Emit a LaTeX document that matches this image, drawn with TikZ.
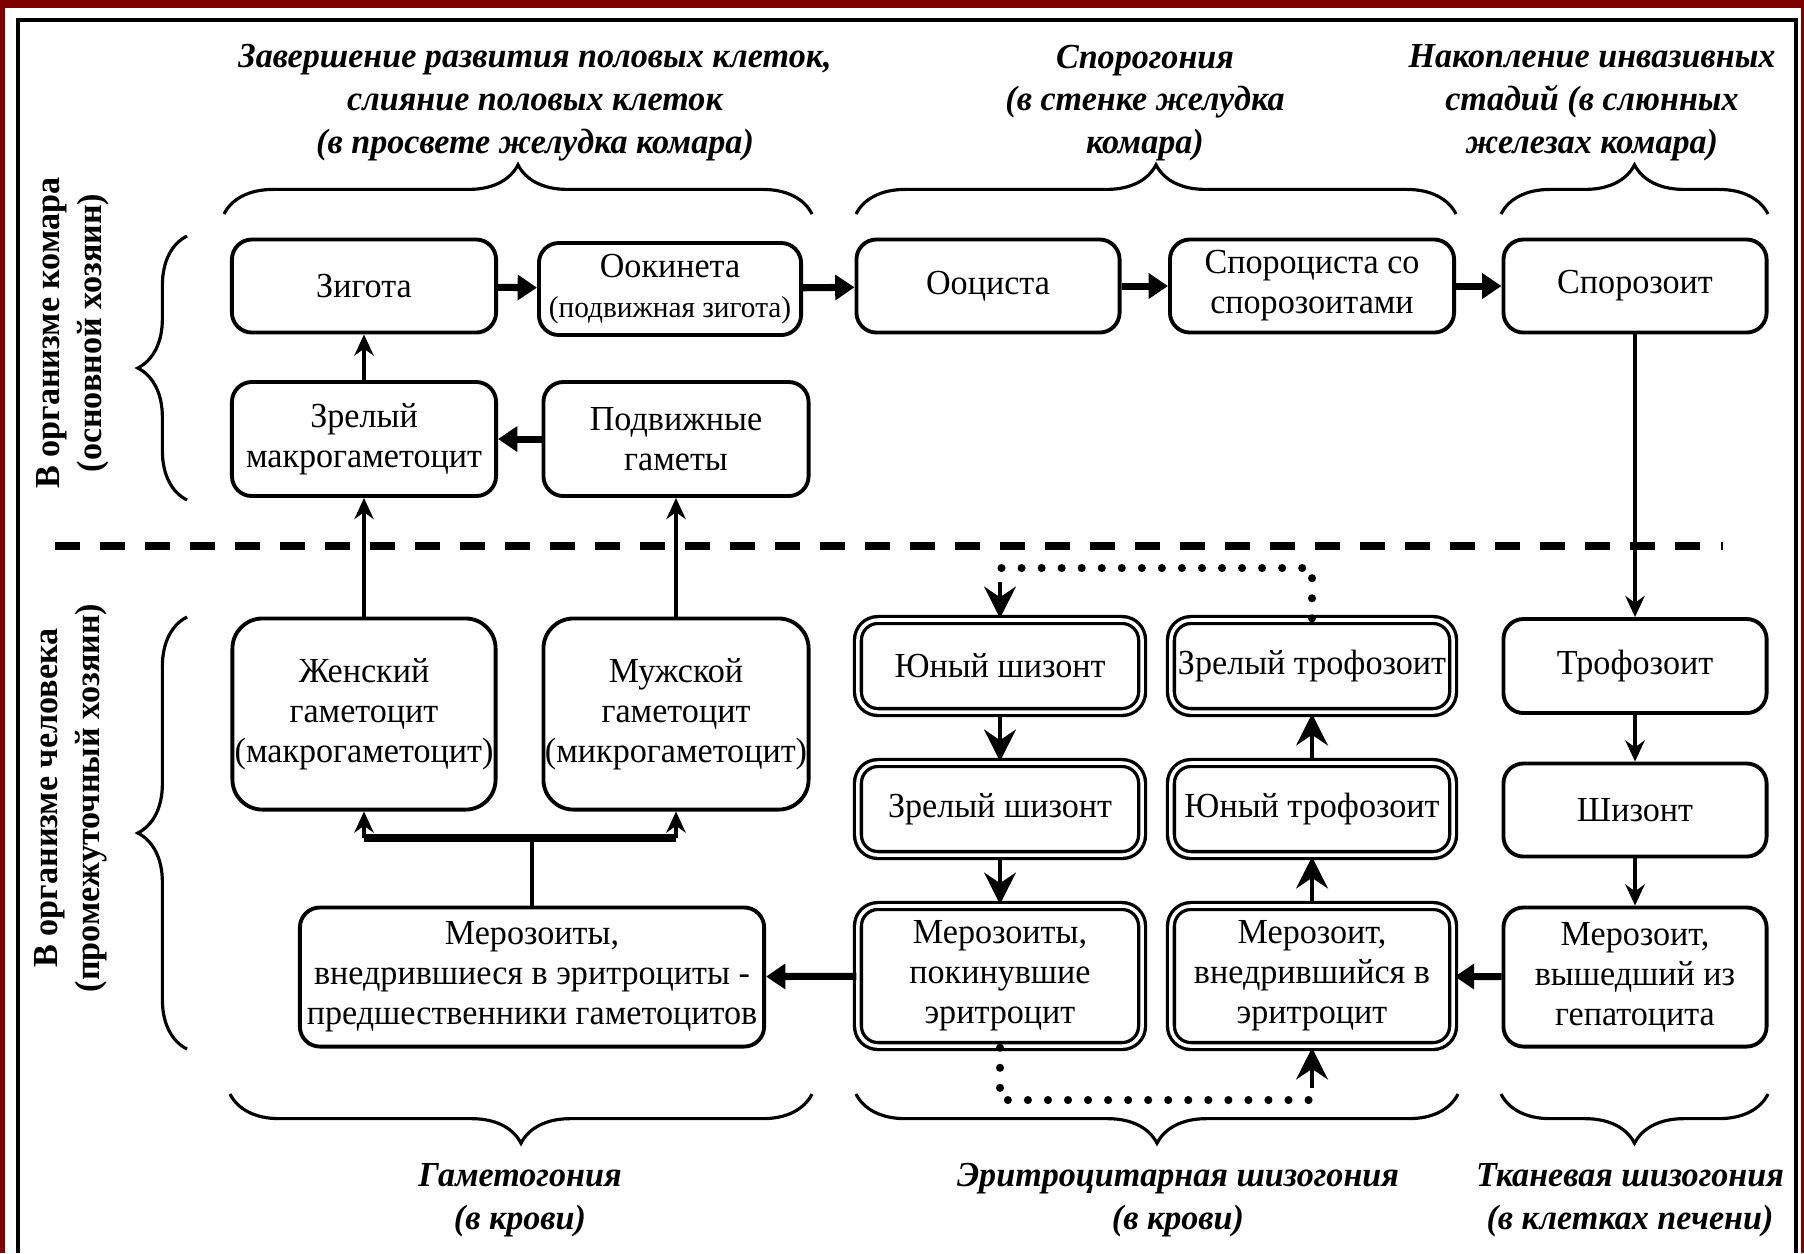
\documentclass[tikz,border=0pt]{standalone}
\usepackage{fontspec}
\setmainfont[FakeStretch=0.97]{Liberation Serif}
\usetikzlibrary{arrows.meta,decorations.pathreplacing}
\definecolor{frameRed}{HTML}{800000}

\tikzset{
  stage/.style={draw,line width=1.1pt,rounded corners=0.2cm,align=center,
                inner sep=0pt,font=\fontsize{10}{11.4}\selectfont},
  redCell/.style={stage,line width=0.95pt,double,double distance=1pt},
  thickArrow/.style={line width=2pt,-{Triangle[length=5.5pt,width=7pt]}},
  linkLine/.style={line width=1.4pt},
  linkArrow/.style={linkLine,-{Stealth[length=6pt,width=5.5pt]}},
  cellArrow/.style={linkLine,-{Stealth[length=9pt,width=9pt,inset=3pt]}},
  dotLine/.style={line width=2.3pt,line cap=round,dash pattern=on 0pt off 5.7pt},
  groupBrace/.style={decorate,decoration={brace,amplitude=14pt},line width=0.9pt},
  titleText/.style={align=center,font=\fontsize{10}{12.2}\selectfont\bfseries\itshape},
  hostText/.style={align=center,rotate=90,font=\fontsize{10}{11.9}\selectfont\bfseries}
}

\begin{document}
\begin{tikzpicture}[x=0.01cm,y=-0.01cm]
\useasboundingbox (0,0) rectangle (1804,1253);
\fill[frameRed] (0,0) rectangle (1804,1253);
\fill[white] (5,8) rectangle (1801,1253);
\draw[line width=1.1pt] (18,1253) -- (18,20) -- (1796,20) -- (1796,1253);

% In the mosquito
\node[stage,minimum width=2.64cm,minimum height=0.93cm] (zygote) at (364,286) {Зигота};
\node[stage,minimum width=2.62cm,minimum height=0.92cm] (ookinete) at (670,289)
  {Оокинета\\{\fontsize{8.6}{10}\selectfont(подвижная зигота)}};
\node[stage,minimum width=2.63cm,minimum height=0.93cm] (oocyst) at (988,286) {Ооциста};
\node[stage,minimum width=2.84cm,minimum height=0.93cm] (sporocyst) at (1312,286)
  {Спороциста со\\спорозоитами};
\node[stage,minimum width=2.63cm,minimum height=0.93cm] (sporozoite) at (1635,286) {Спорозоит};
\node[stage,minimum width=2.64cm,minimum height=1.14cm] (macro) at (364,439)
  {Зрелый\\макрогаметоцит};
\node[stage,minimum width=2.65cm,minimum height=1.14cm] (gametes) at (676,439)
  {Подвижные\\гаметы};

% In the human
\node[stage,rounded corners=0.3cm,minimum width=2.63cm,minimum height=1.91cm] (female)
  at (364,714) {Женский\\гаметоцит\\(макрогаметоцит)};
\node[stage,rounded corners=0.3cm,minimum width=2.65cm,minimum height=1.91cm] (male)
  at (676,714) {Мужской\\гаметоцит\\(микрогаметоцит)};
\node[stage,minimum width=4.64cm,minimum height=1.39cm] (merozG) at (532,977)
  {Мерозоиты,\\внедрившиеся в эритроциты -\\предшественники гаметоцитов};

% Erythrocytic schizogony
\node[redCell,minimum width=2.84cm,minimum height=0.92cm] (youngSchiz) at (1000,666) {Юный шизонт};
\node[redCell,minimum width=2.82cm,minimum height=0.92cm] (matureTroph) at (1312,666) {Зрелый трофозоит};
\node[redCell,minimum width=2.84cm,minimum height=0.92cm] (matureSchiz) at (1000,809) {Зрелый шизонт};
\node[redCell,minimum width=2.82cm,minimum height=0.92cm] (youngTroph) at (1312,809) {Юный трофозоит};
\node[redCell,minimum width=2.84cm,minimum height=1.40cm] (merozOut) at (1000,976)
  {Мерозоиты,\\покинувшие\\эритроцит};
\node[redCell,minimum width=2.82cm,minimum height=1.40cm] (merozIn) at (1312,976)
  {Мерозоит,\\внедрившийся в\\эритроцит};

% Tissue schizogony
\node[stage,minimum width=2.63cm,minimum height=0.94cm] (troph) at (1635,666) {Трофозоит};
\node[stage,minimum width=2.63cm,minimum height=0.93cm] (schiz) at (1635,810) {Шизонт};
\node[stage,minimum width=2.63cm,minimum height=1.39cm] (merozLiver) at (1635,977)
  {Мерозоит,\\вышедший из\\гепатоцита};

% Hosts
\draw[line width=2.3pt,dash pattern=on 7.1pt off 5.7pt] (55,546) -- (1723,546);
\node[hostText] (mosquito) at (73,333) {В организме комара\\(основной хозяин)};
\node[hostText] (human) at (71,798) {В организме человека\\(промежуточный хозяин)};
\draw[groupBrace] (187,500) -- (187,236);
\draw[groupBrace] (187,1049) -- (187,617);

% Stages above
\foreach \a/\b in {224/812,856/1456,1501/1768} {
  \draw[groupBrace] (\a,214) -- (\b,214);
}
\node[titleText] (fusion) at (535,103)
  {Завершение развития половых клеток,\\слияние половых клеток\\(в просвете желудка комара)};
\node[titleText] (sporogony) at (1145,103) {Спорогония\\(в стенке желудка\\комара)};
\node[titleText] (storage) at (1592,103) {Накопление инвазивных\\стадий (в слюнных\\железах комара)};

% Stages below
\foreach \a/\b in {812/230,1458/856,1768/1501} {
  \draw[groupBrace] (\a,1094) -- (\b,1094);
}
\node[titleText] (gametogony) at (520,1200) {Гаметогония\\(в крови)};
\node[titleText] (eryth) at (1178,1200) {Эритроцитарная шизогония\\(в крови)};
\node[titleText] (tissue) at (1630,1200) {Тканевая шизогония\\(в клетках печени)};

% Arrows
\draw[thickArrow] (zygote) -- (ookinete);
\draw[thickArrow] (ookinete) -- (oocyst);
\draw[thickArrow] (oocyst) -- (sporocyst);
\draw[thickArrow] (sporocyst) -- (sporozoite);
\draw[thickArrow] (gametes) -- (macro);
\draw[linkArrow] (macro) -- (zygote);
\draw[linkArrow] (female) -- (macro);
\draw[linkArrow] (male) -- (gametes);
\coordinate (split) at (532,838);
\draw[linkLine] (merozG) -- (split);
\draw[line width=2.2pt] (female |- split) -- (male |- split);
\draw[linkArrow] (female |- split) -- (female);
\draw[linkArrow] (male |- split) -- (male);
\draw[thickArrow] (merozOut) -- (merozG);
\draw[thickArrow] (merozLiver) -- (merozIn);
\draw[linkArrow] (sporozoite) -- (troph);
\draw[linkArrow] (troph) -- (schiz);
\draw[linkArrow] (schiz) -- (merozLiver);
\draw[cellArrow] (merozIn) -- (youngTroph);
\draw[cellArrow] (youngTroph) -- (matureTroph);
\draw[cellArrow] (youngSchiz) -- (matureSchiz);
\draw[cellArrow] (matureSchiz) -- (merozOut);
% dotted loops
\coordinate (topDots) at (1312,568);
\coordinate (topDrop) at (1000,582);
\coordinate (bottomDots) at (1000,1100);
\coordinate (bottomRise) at (1312,1088);
\draw[dotLine] (matureTroph) -- (topDots) -| (topDrop);
\draw[cellArrow] (topDrop) -- (youngSchiz);
\draw[dotLine] (merozOut) -- (bottomDots) -| (bottomRise);
\draw[cellArrow] (bottomRise) -- (merozIn);
\end{tikzpicture}
\end{document}
